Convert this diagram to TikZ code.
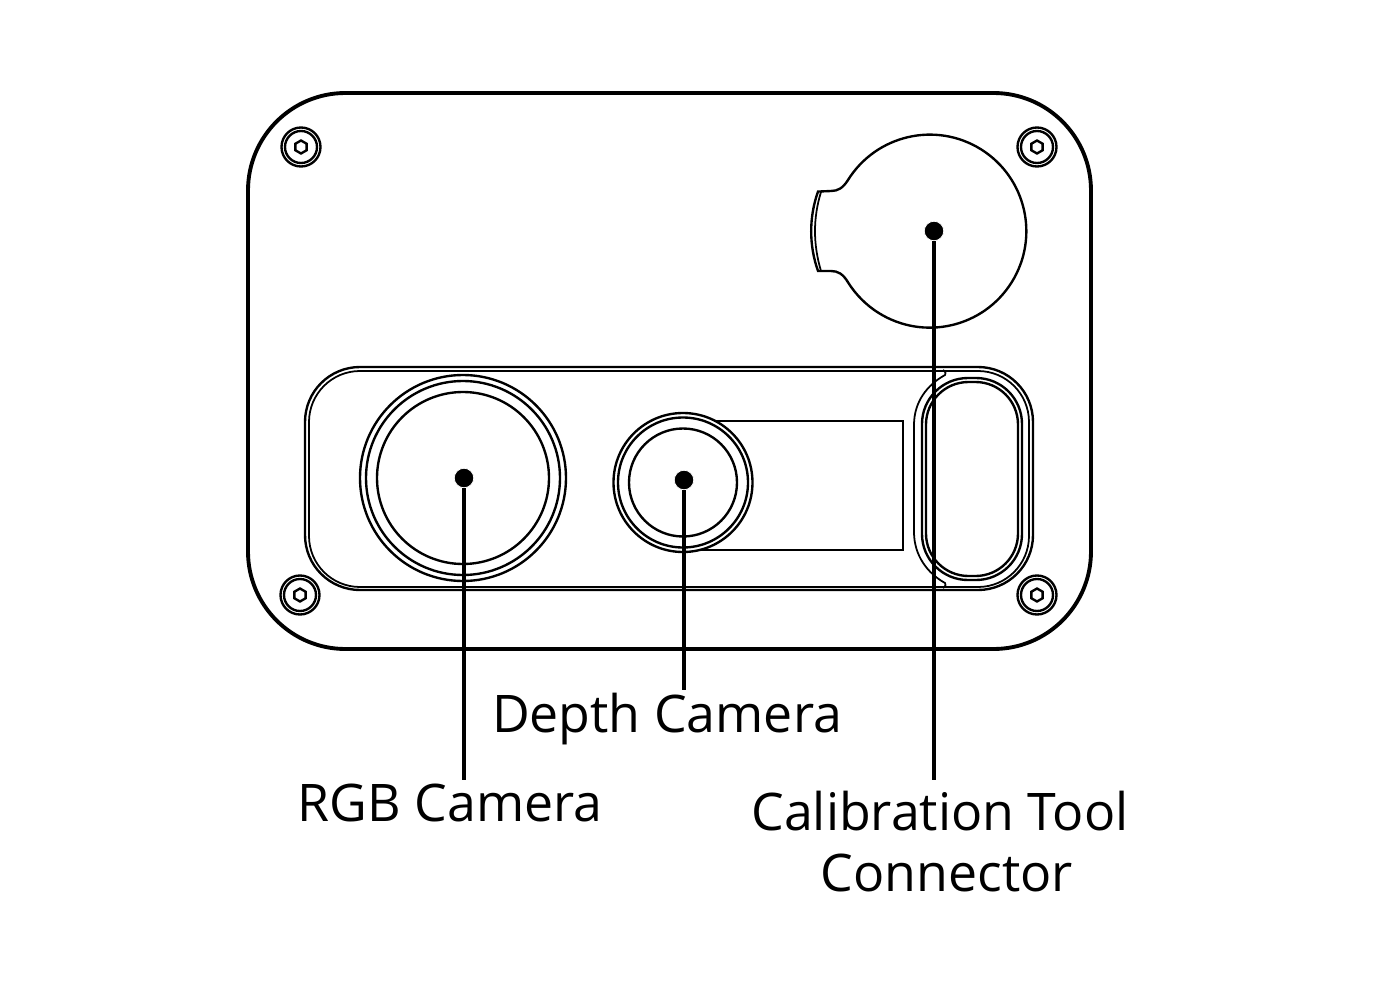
\documentclass[tikz,border=0pt]{standalone}
\usepackage{fontspec}
\setmainfont{Open Sans}
\usetikzlibrary{calc}
\tikzset{
	hull/.style={line width=2.2pt},
	part/.style={line width=1.35pt},
	fine/.style={line width=1pt},
	leader/.style={line width=2.4pt},
	dotmark/.style={circle,fill=black,draw=white,line width=0.4pt,minimum size=0.39cm,inner sep=0pt,outer sep=0pt},
	label/.style={font=\fontsize{29.5}{36}\selectfont,inner sep=0pt}
}
\begin{document}
\begin{tikzpicture}[x=0.02cm,y=0.02cm]
	\useasboundingbox (0,0) rectangle (1374,-987);
	%Outer hull
	\draw[hull,rounded corners=1.95cm] (248,-93) rectangle (1091,-649);
	%Screws in the corners
	\coordinate (screw1) at (301,-147);
	\coordinate (screw2) at (1037,-147);
	\coordinate (screw3) at (300,-595);
	\coordinate (screw4) at (1037,-595);
	\foreach \i in {1,...,4} {
		\draw[part] (screw\i) circle[radius=19.5];
		\draw[part] (screw\i) circle[radius=16];
		\draw[part] ($(screw\i)+(90:6.5)$) -- ($(screw\i)+(150:6.5)$) -- ($(screw\i)+(210:6.5)$) -- ($(screw\i)+(270:6.5)$) -- ($(screw\i)+(330:6.5)$) -- ($(screw\i)+(30:6.5)$) -- cycle;
	}
	%Cap of the connector
	\coordinate (capUpper) at (848,-180);
	\draw[part] (capUpper) arc[start angle=148,end angle=-148,radius=96.5]
		.. controls (843,-274) and (838,-271) .. (831,-271) -- (818,-271)
		arc[start angle=199.5,end angle=160.5,radius=119] -- (831,-191)
		.. controls (838,-191) and (843,-188) .. (848,-180);
	\draw[fine] (821,-192) .. controls (813,-218) and (813,-244) .. (821,-271);
	%Panel at the bottom
	\draw[part,rounded corners=1.1cm] (305,-367) rectangle (1033,-590);
	\draw[fine,rounded corners=1.02cm] (309,-371) rectangle (1029,-587);
	%Window in the panel
	\draw[part,rounded corners=0.92cm] (922,-378) rectangle (1022,-580);
	\draw[part,rounded corners=0.85cm] (926,-382) rectangle (1018,-576);
	\draw[fine] (943,-370) .. controls (946,-372) and (946,-374) .. (945,-375)
		.. controls (927,-385) and (914,-402) .. (914,-425) -- (914,-532)
		.. controls (914,-555) and (927,-573) .. (945,-583)
		.. controls (946,-584) and (946,-586) .. (943,-588);
	%Sensor behind the depth camera
	\draw[part] (690,-421) -- (903,-421) -- (903,-550) -- (690,-550);
	%RGB camera
	\coordinate (rgbCenter) at (463,-478);
	\draw[part] (rgbCenter) circle[radius=103];
	\draw[part] (rgbCenter) circle[radius=97];
	\draw[part] (rgbCenter) circle[radius=86];
	%Depth camera
	\coordinate (depthCenter) at (683,-482.5);
	\draw[part,fill=white] (depthCenter) circle[radius=69.5];
	\draw[part] (depthCenter) circle[radius=65];
	\draw[part] (depthCenter) circle[radius=54];
	%The labels
	\node[label] (rgbLabel) at (450,-803) {RGB Camera};
	\node[label] (depthLabel) at (667,-719) {Depth Camera};
	\node[label] (calibLabel) at (940,-811) {Calibration Tool};
	\node[label] (connLabel) at (947,-873) {Connector};
	%Dots and leaders
	\node[dotmark] (rgbDot) at (464,-478) {};
	\node[dotmark] (depthDot) at (684,-480) {};
	\node[dotmark] (capDot) at (934,-231) {};
	\coordinate (rgbEnd) at (464,-780);
	\coordinate (depthEnd) at (684,-690);
	\coordinate (capEnd) at (934,-780);
	\draw[leader] (rgbDot) -- (rgbEnd);
	\draw[leader] (depthDot) -- (depthEnd);
	\draw[leader] (capDot) -- (capEnd);
\end{tikzpicture}
\end{document}
